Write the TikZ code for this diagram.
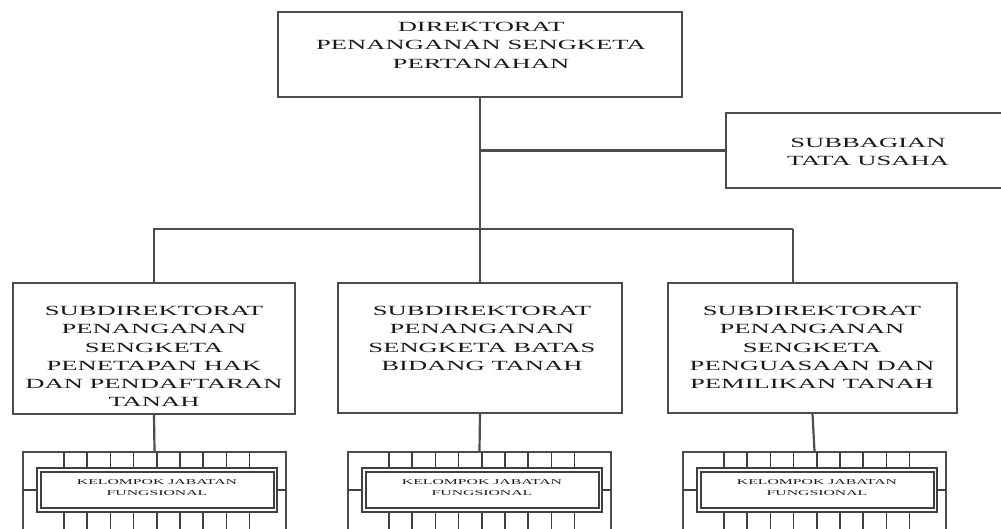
\documentclass[tikz,border=0pt]{standalone}
\usepackage{fontspec}
\newfontfamily\orgfont[FakeStretch=1.9]{Liberation Serif}
\newfontfamily\smallorgfont[FakeStretch=2.1]{Liberation Serif}
\begin{document}
\begin{tikzpicture}[x=1pt,y=-1pt,
  box/.style={draw=black!70, line width=1.8pt, rectangle, inner sep=0pt},
  txt/.style={align=center, inner sep=0pt, text=black!90, font=\orgfont\fontsize{14}{18.3}\selectfont},
  smalltxt/.style={align=center, inner sep=0pt, text=black!90, font=\smallorgfont\fontsize{7.5}{11}\selectfont},
  conn/.style={draw=black!70, line width=2.2pt},
  grid/.style={draw=black!75, line width=1.5pt}]
\useasboundingbox (0,0) rectangle (1001,529);
\clip (0,0) rectangle (1001,529);
% main boxes
\node[box, minimum width=404pt, minimum height=85pt] (dir) at (480,54.5) {};
\node[txt, anchor=north] (dirt) at (481,22) {DIREKTORAT\\PENANGANAN SENGKETA\\PERTANAHAN};
\node[box, minimum width=286pt, minimum height=75pt] (tu) at (869,150.5) {};
\node[txt] (tut) at (868,152) {SUBBAGIAN\\TATA USAHA};
\node[box, minimum width=282pt, minimum height=131pt] (sd1) at (154,348.5) {};
\node[txt, anchor=north] (sd1t) at (154,306) {SUBDIREKTORAT\\PENANGANAN\\SENGKETA\\PENETAPAN HAK\\DAN PENDAFTARAN\\TANAH};
\node[box, minimum width=284pt, minimum height=130pt] (sd2) at (480,348) {};
\node[txt, anchor=north] (sd2t) at (482,306) {SUBDIREKTORAT\\PENANGANAN\\SENGKETA BATAS\\BIDANG TANAH};
\node[box, minimum width=289pt, minimum height=130pt] (sd3) at (812.5,348) {};
\node[txt, anchor=north] (sd3t) at (812,306) {SUBDIREKTORAT\\PENANGANAN\\SENGKETA\\PENGUASAAN DAN\\PEMILIKAN TANAH};
% kelompok jabatan fungsional boxes
\foreach \nm/\xo in {k1/23, k2/348, k3/683}{
  \node[box, minimum width=263pt, minimum height=100pt] (\nm) at (\xo+131.5,502) {};
  \draw[grid] (\xo+14,468) rectangle (\xo+254,512);
  \draw[grid] (\xo+18,472) rectangle (\xo+251,508);
  \foreach \k in {0,...,8}{
    \draw[grid] (\xo+41+23.2*\k,452) -- (\xo+41+23.2*\k,468);
    \draw[grid] (\xo+41+23.2*\k,512) -- (\xo+41+23.2*\k,540);
  }
  \draw[grid] (\xo,490) -- (\xo+14,490);
  \draw[grid] (\xo+254,490) -- (\xo+263,490);
  \node[smalltxt] (\nm t) at (\xo+134,488) {KELOMPOK JABATAN\\FUNGSIONAL};
}
% connectors
\coordinate (j1) at (480,150.5);
\coordinate (j2) at (480,229);
\coordinate (b3) at (793,229);
\draw[conn] (dir.south) -- (j2);
\draw[conn] (j1) -- (tu.west);
\draw[conn] (sd1.north) |- (b3);
\draw[conn] (j2) -- (sd2.north);
\draw[conn] (b3) -- (b3 |- sd3.north);
\draw[conn] (sd1.south) -- (k1.north);
\draw[conn] (sd2.south) -- (k2.north);
\draw[conn] (sd3.south) -- (k3.north);
\end{tikzpicture}
\end{document}
